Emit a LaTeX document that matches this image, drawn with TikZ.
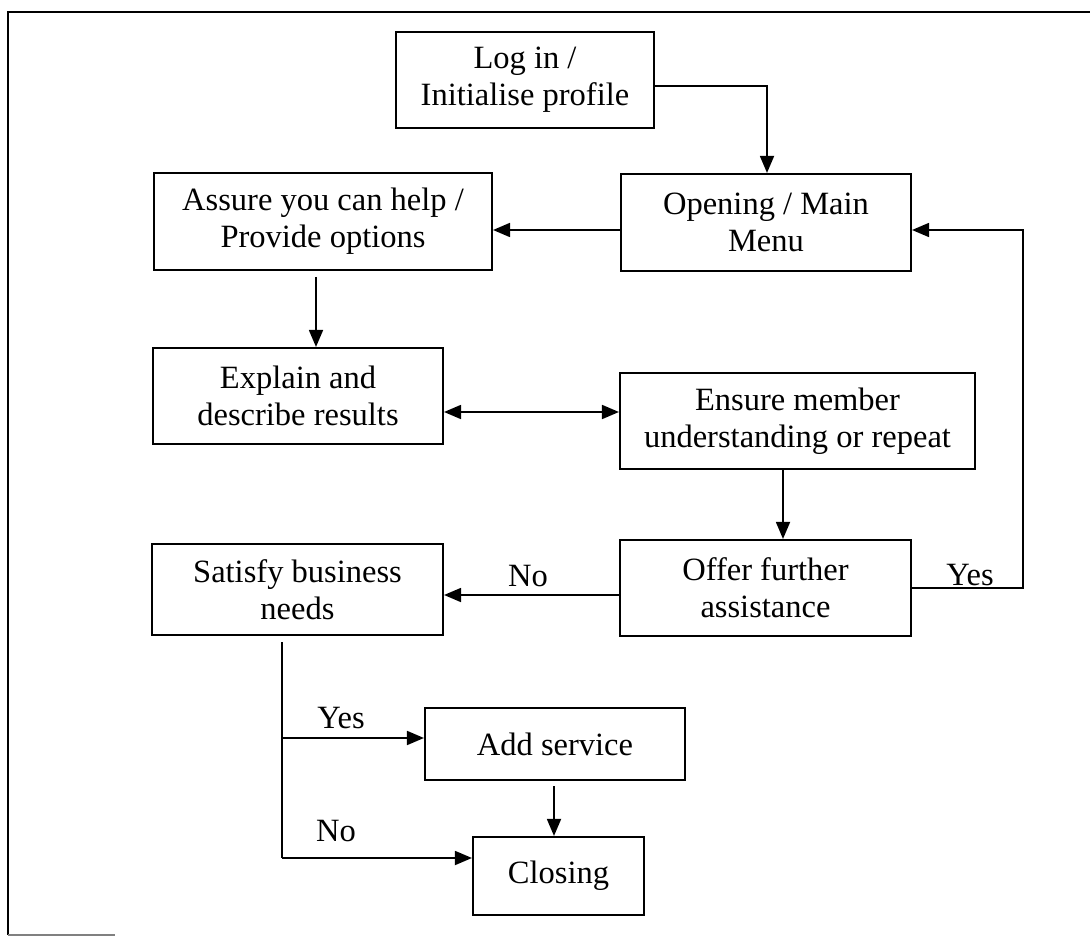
\documentclass[tikz,border=0pt]{standalone}
\usepackage{fontspec}
\setmainfont{Liberation Serif}
\usetikzlibrary{arrows.meta,calc}
\tikzstyle{box}=[rectangle,draw=black,line width=1.2pt,align=center,
  inner sep=2pt,font=\fontsize{18.5}{21}\selectfont]
\tikzstyle{lbl}=[inner sep=0pt,font=\fontsize{18.5}{21}\selectfont]
\tikzstyle{flow}=[line width=1pt,-{Triangle[length=3.4mm,width=2.8mm]}]
\tikzstyle{none}=[inner sep=0pt]

\begin{document}
\begin{tikzpicture}
    \useasboundingbox (0,0) rectangle (21.8,-18.74);
    % frame
    \draw [line width=0.9pt] (21.8,-0.24) -- (0.16,-0.24) -- (0.16,-18.7);
    \draw [line width=0.6pt, gray] (0.16,-18.7) -- (2.3,-18.7);
            \node [style=box, minimum width=5.16cm, minimum height=1.92cm] (1) at (10.5, -1.6) {Log in /\\Initialise profile};
            \node [style=box, minimum width=5.8cm, minimum height=1.94cm] (2) at (15.32, -4.45) {Opening / Main\\Menu};
            \node [style=box, minimum width=6.76cm, minimum height=1.94cm] (3) at (6.46, -4.43) {Assure you can help /\\Provide options};
            \node [style=box, minimum width=5.8cm, minimum height=1.92cm] (4) at (5.96, -7.92) {Explain and\\describe results};
            \node [style=box, minimum width=7.1cm, minimum height=1.92cm] (5) at (15.95, -8.42) {Ensure member\\understanding or repeat};
            \node [style=box, minimum width=5.82cm, minimum height=1.92cm] (6) at (15.31, -11.76) {Offer further\\assistance};
            \node [style=box, minimum width=5.82cm, minimum height=1.82cm] (7) at (5.95, -11.79) {Satisfy business\\needs};
            \node [style=box, minimum width=5.2cm, minimum height=1.44cm] (8) at (11.1, -14.88) {Add service};
            \node [style=box, minimum width=3.42cm, minimum height=1.56cm] (9) at (11.17, -17.52) {Closing};
            \node [style=none] (13) at (6.32, -5.54) {};
            \node [style=none] (14) at (10, -8.24) {};
            \node [style=none] (15) at (15.66, -9.38) {};
            \node [style=none] (17) at (20.46, -11.76) {};
            \node [style=none] (18) at (5.64, -12.84) {};
            \node [style=none] (19) at (5.64, -17.16) {};
            \node [style=none] (20) at (5.64, -14.76) {};
            \node [style=none] (21) at (11.08, -15.72) {};
            \node [style=none] (25) at (10, -11.9) {};
            \node [style=none] (26) at (10, -4.6) {};
            \node [style=none] (27) at (15.34, -1.72) {};
            \node [style=lbl] (16) at (10.56, -11.52) {No};
            \node [style=lbl] (22) at (19.4, -11.5) {Yes};
            \node [style=lbl] (23) at (6.82, -14.36) {Yes};
            \node [style=lbl] (24) at (6.72, -16.62) {No};
            \draw [style=flow] (27.center -| 1.east) -| (2.north -| 27.center);
            \draw [style=flow] (26.center -| 2.west) to (26.center -| 3.east);
            \draw [style=flow] (13.center) to (13.center |- 4.north);
            \draw [style=flow, {Triangle[length=3.4mm,width=2.8mm]}-{Triangle[length=3.4mm,width=2.8mm]}] (14.center -| 4.east) to (14.center -| 5.west);
            \draw [style=flow] (15.center) to (15.center |- 6.north);
            \draw [style=flow] (25.center -| 6.west) to (25.center -| 7.east);
            \draw [style=flow] (6.east) -| (17.center) |- (26.center -| 2.east);
            \draw [line width=1pt] (18.center) to (19.center);
            \draw [style=flow] (20.center) to (20.center -| 8.west);
            \draw [style=flow] (19.center) to (19.center -| 9.west);
            \draw [style=flow] (21.center) to (21.center |- 9.north);
\end{tikzpicture}
\end{document}
